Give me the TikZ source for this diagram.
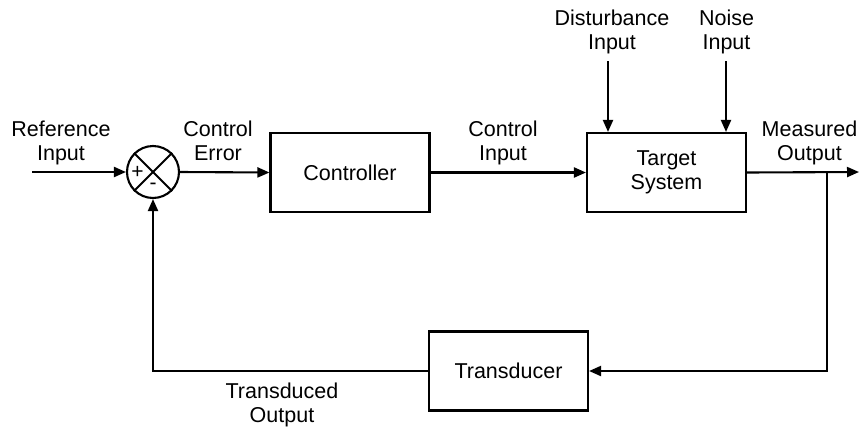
\documentclass[tikz,border=0pt]{standalone}
\usepackage{fontspec}
\setmainfont{Liberation Sans}
\usetikzlibrary{arrows.meta}
\begin{document}
\begin{tikzpicture}[x=1pt,y=-1pt, line width=2.1pt,
  blk/.style={draw, minimum width=159pt, minimum height=79pt, inner sep=0pt, align=center, font=\fontsize{21.5}{24}\selectfont},
  lbl/.style={align=center, inner sep=0pt, anchor=base, font=\fontsize{21.5}{24}\selectfont},
  sgn/.style={inner sep=0pt, font=\fontsize{21}{21}\selectfont},
  arr/.style={-{Triangle[length=12pt,width=10pt]}}]
\useasboundingbox (0,0) rectangle (859,426);
% blocks
\node[circle, draw, minimum size=52pt, inner sep=0pt] (sum) at (153,172) {};
\draw (sum.north west) -- (sum.south east);
\draw (sum.north east) -- (sum.south west);
\node[sgn] (plus) at (137.5,172) {+};
\node[sgn] (minus) at (153,186.5) {-};
\node[blk] (ctrl) at (350,172.5) {Controller};
\node[blk] (tgt) at (666.5,172.5) {Target\\System};
\node[blk] (trans) at (508.5,371) {Transducer};
% free ends
\coordinate (refin) at (32,172);
\coordinate (out) at (859,172);
\coordinate (br) at (827,172);
\coordinate (dist) at (608,61);
\coordinate (noise) at (726,61);
% connectors
\draw[arr] (refin) -- (sum.west);
\draw[arr] (sum.east) -- (ctrl.west);
\draw[arr] (ctrl.east) -- (tgt.west);
\draw[arr] (tgt.east) -- (out);
\draw[arr] (br) |- (trans.east);
\draw[arr] (trans.west) -| (sum.south);
\draw[arr] (dist) -- (dist |- tgt.north);
\draw[arr] (noise) -- (noise |- tgt.north);
% labels
\node[lbl] (lref) at (61,160) {Reference\\Input};
\node[lbl] (lerr) at (218,160) {Control\\Error};
\node[lbl] (lcin) at (503,160) {Control\\Input};
\node[lbl] (lmeas) at (809.5,160) {Measured\\Output};
\node[lbl] (ldist) at (612,49) {Disturbance\\Input};
\node[lbl] (lnoise) at (726.5,49) {Noise\\Input};
\node[lbl] (ltrans) at (282,422) {Transduced\\Output};
\end{tikzpicture}
\end{document}
